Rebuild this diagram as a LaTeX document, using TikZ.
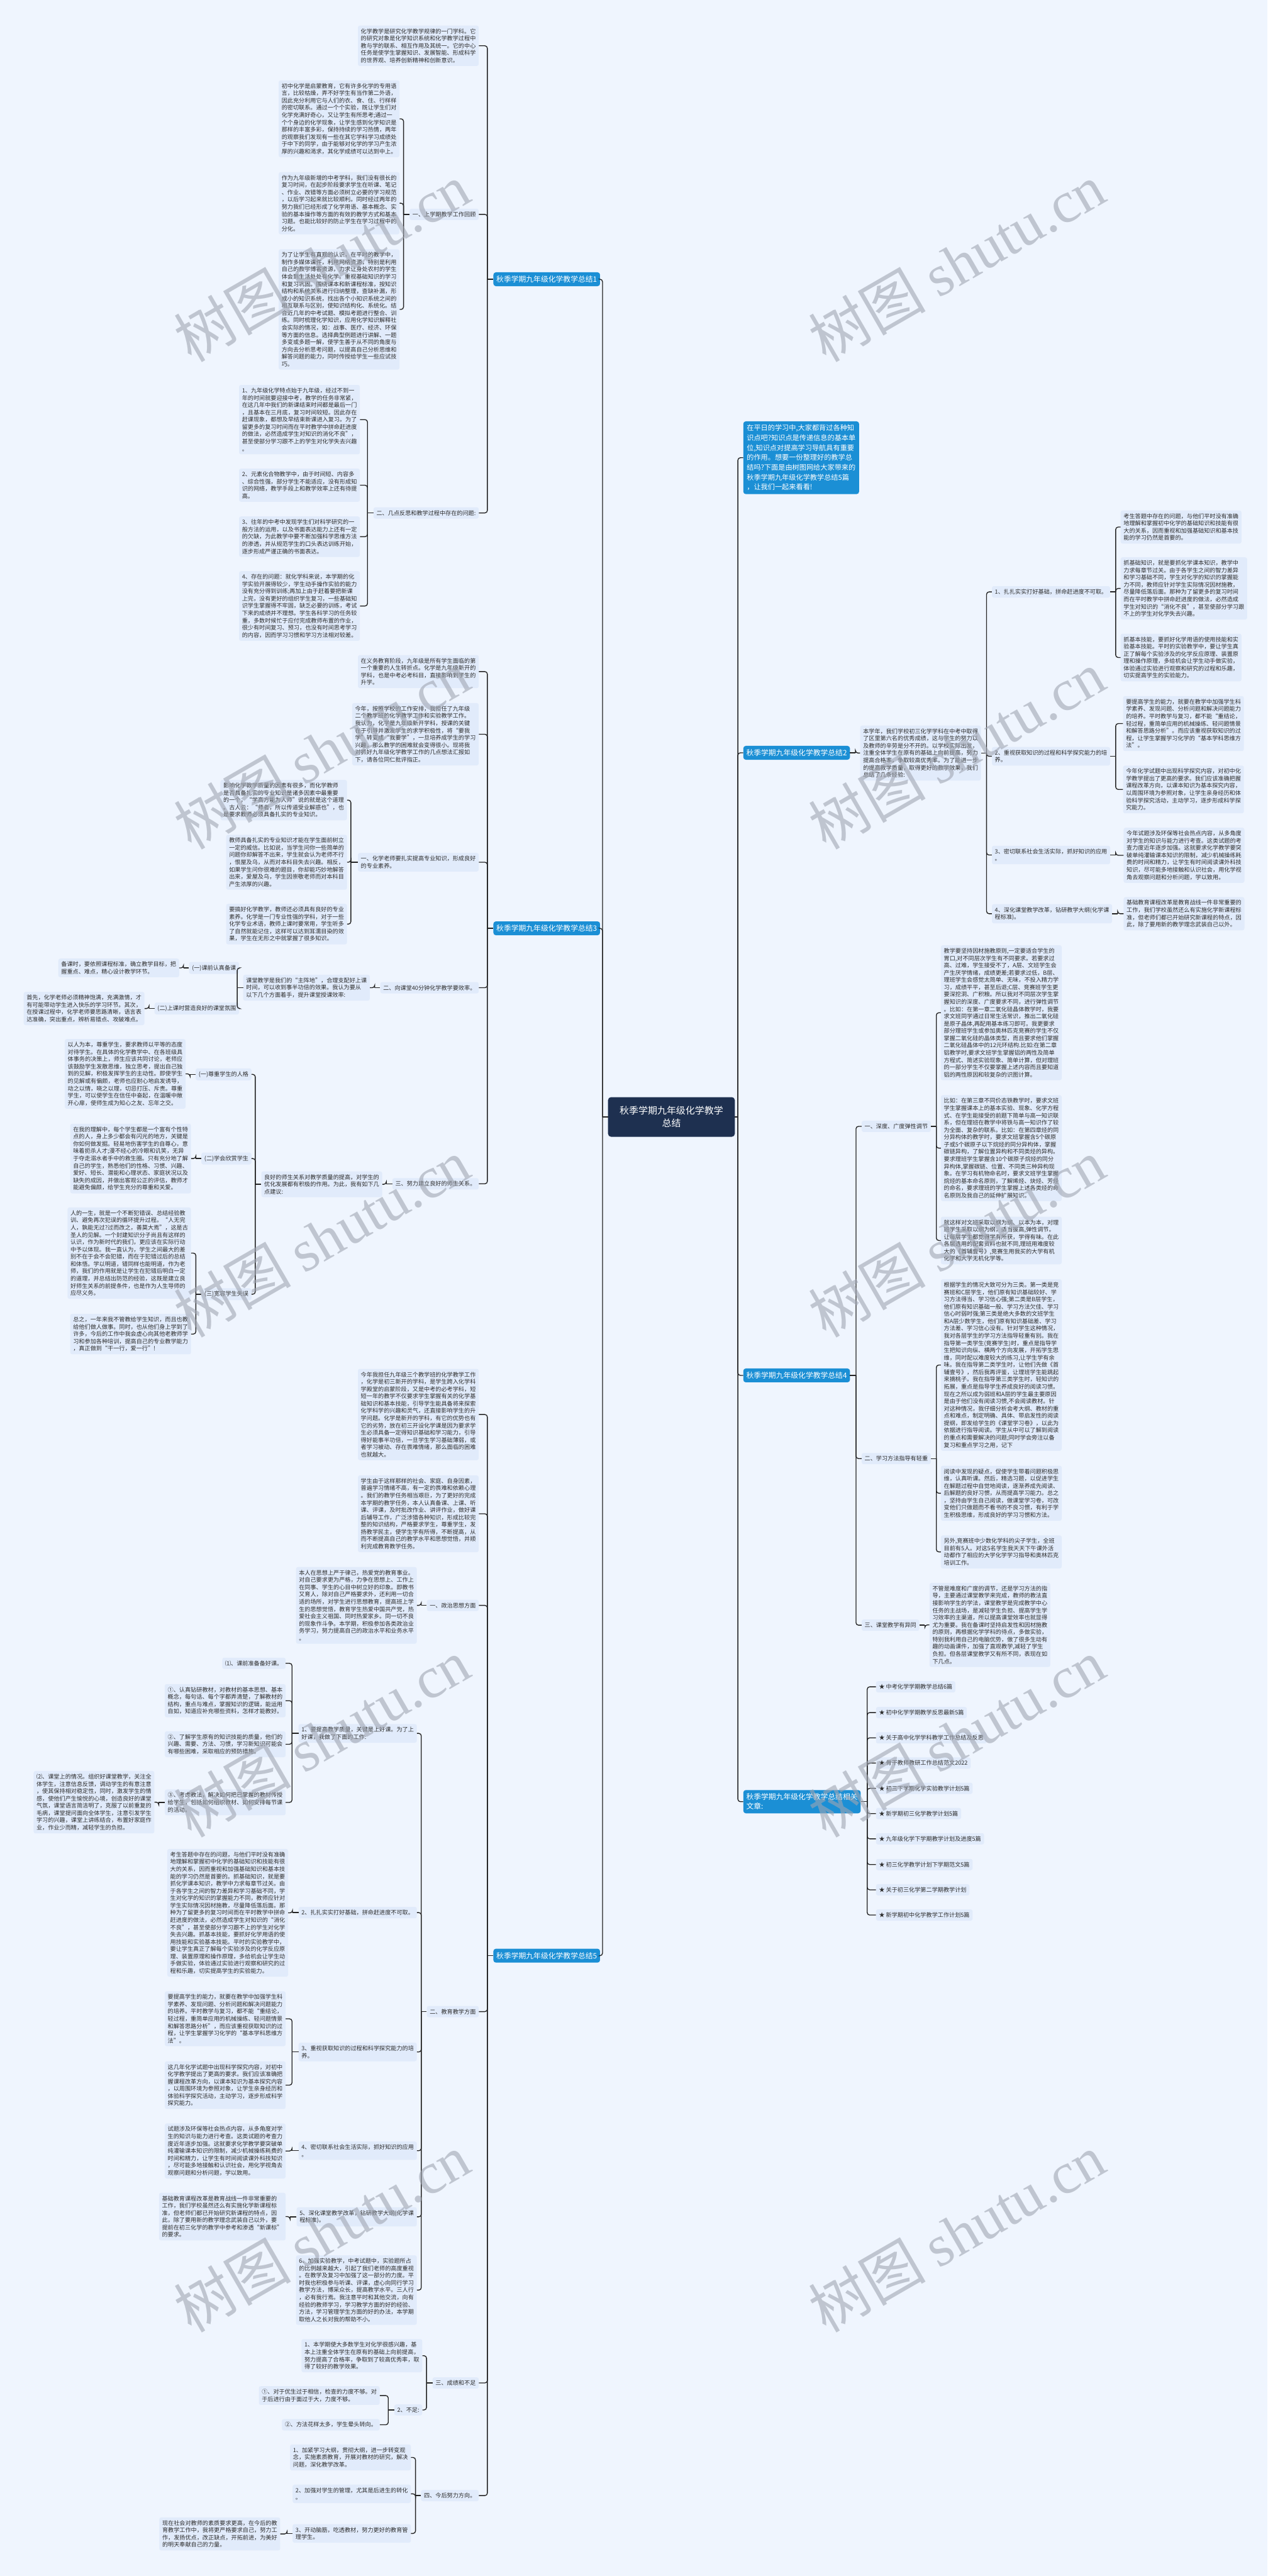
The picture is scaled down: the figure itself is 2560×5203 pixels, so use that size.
\documentclass[tikz,border=0pt]{standalone}
\usepackage{fontspec}
\setmainfont{Noto Sans CJK SC}
\newfontfamily\wmser{Liberation Serif}
\definecolor{bgc}{RGB}{239,245,254}
\definecolor{leafc}{RGB}{225,235,251}
\definecolor{bluec}{RGB}{27,143,213}
\definecolor{navyc}{RGB}{30,48,80}
\definecolor{linec}{RGB}{35,35,35}
\definecolor{txtc}{RGB}{45,45,45}
\definecolor{wmc}{RGB}{160,166,178}
\newcommand\leaffnt{\fontsize{11.6pt}{14.7pt}\selectfont}
\newcommand\brfnt{\fontsize{15pt}{19pt}\selectfont}
\newcommand\introfnt{\fontsize{14.2pt}{19.9pt}\selectfont}
\newcommand\rootfnt{\fontsize{19pt}{25pt}\selectfont}
\newcommand\Lcon[3]{%
  \draw[ln] (#1.west) -- ++(-#2,0);
  \foreach \kk in {#3}{\draw[ln,rounded corners=5pt] (#1.west) ++(-#2,0) |- (\kk.east);}}
\newcommand\Rcon[3]{%
  \draw[ln] (#1.east) -- ++(#2,0);
  \foreach \kk in {#3}{\draw[ln,rounded corners=5pt] (#1.east) ++(#2,0) |- (\kk.west);}}
\tikzset{
  leaf/.style={fill=leafc, rounded corners=4pt, align=left, text=txtc, font=\leaffnt, inner xsep=6pt, inner ysep=6pt},
  brn/.style={fill=bluec, rounded corners=5pt, align=left, text=white, font=\brfnt, inner xsep=6pt, inner ysep=7pt},
  intro/.style={fill=bluec, rounded corners=5pt, align=left, text=white, font=\introfnt, inner xsep=7pt, inner ysep=7pt},
  rootst/.style={fill=navyc, rounded corners=6pt, align=center, text=white, font=\rootfnt, minimum width=256pt, minimum height=80pt},
  ln/.style={draw=linec, line width=1.7pt},
  wm/.style={text=wmc, text opacity=0.6, font=\fontsize{118pt}{120pt}\selectfont, rotate=30},
  lw/.style={leaf, anchor=east},
  rw/.style={leaf, anchor=west}
}
\begin{document}
\begin{tikzpicture}[x=1pt,y=-1pt]
\fill[bgc] (0,0) rectangle (2560,5203);
\useasboundingbox (0,0) rectangle (2560,5203);

% ---------------- root
\node[rootst] (root) at (1356,2256) {秋季学期九年级化学教学\\总结};

% ---------------- branch 1
\node[brn,anchor=east] (b1) at (1212,564) {秋季学期九年级化学教学总结1};
\node[lw] (t1a) at (967,92.5) {化学教学是研究化学教学规律的一门学科。它\\的研究对象是化学知识系统和化学教学过程中\\教与学的联系、相互作用及其统一。它的中心\\任务是使学生掌握知识、发展智能、形成科学\\的世界观、培养创新精神和创新意识。};
\node[lw] (b1s1) at (967,433) {一、上学期教学工作回顾};
\node[lw] (b1s2) at (967,1036) {二、几点反思和教学过程中存在的问题:};
\node[lw] (c1) at (807,240) {初中化学是启蒙教育，它有许多化学的专用语\\言，比较枯燥，弄不好学生有当作第二外语，\\因此充分利用它与人们的衣、食、住、行样样\\的密切联系。通过一个个实验，既让学生们对\\化学充满好奇心，又让学生有所思考;通过一\\个个身边的化学现象，让学生感到化学知识是\\那样的丰富多彩，保持持续的学习热情，两年\\的观察我们发现有一些在其它学科学习成绩处\\于中下的同学，由于能够对化学的学习产生浓\\厚的兴趣和渴求，其化学成绩可以达到中上。};
\node[lw] (c2) at (807,410.5) {作为九年级新增的中考学科，我们没有很长的\\复习时间，在起步阶段要求学生在听课、笔记\\、作业、改错等方面必须树立必要的学习规范\\，以后学习起来就比较顺利。同时经过两年的\\努力我们已经形成了化学用语、基本概念、实\\验的基本操作等方面的有效的教学方式和基本\\习题。也能比较好的防止学生在学习过程中的\\分化。};
\node[lw] (c3) at (807,625) {为了让学生有直观的认识，在平时的教学中，\\制作多媒体课件，利用网络资源，特别是利用\\自己的教学博客资源，力求让身处农村的学生\\体会到生活处处有化学。重视基础知识的学习\\和复习巩固。围绕课本和新课程标准，按知识\\结构和系统关系进行归纳整理，查缺补漏，形\\成小的知识系统，找出各个小知识系统之间的\\相互联系与区别，使知识结构化、系统化。结\\合近几年的中考试题、模拟考题进行整合、训\\练。同时梳理化学知识，应用化学知识解释社\\会实际的情况，如：战事、医疗、经济、环保\\等方面的信息。选择典型例题进行讲解、一题\\多变或多题一解，使学生善于从不同的角度与\\方向去分析思考问题，以提高自己分析思维和\\解答问题的能力，同时传授给学生一些应试技\\巧。};
\node[lw] (d1) at (727,847.5) {1、九年级化学特点始于九年级，经过不到一\\年的时间就要迎接中考，教学的任务非常紧，\\在这几年中我们的新课结束时间都是最后一门\\，且基本在三月底，复习时间较短。因此存在\\赶课现象，都想及早结束新课进入复习。为了\\留更多的复习时间而在平时教学中拼命赶进度\\的做法，必然造成学生对知识的消化不良”，\\甚至使部分学习跟不上的学生对化学失去兴趣\\。};
\node[lw] (d2) at (727,980) {2、元素化合物教学中，由于时间短、内容多\\、综合性强，部分学生不能适应，没有形成知\\识的网络，教学手段上和教学效率上还有待提\\高。};
\node[lw] (d3) at (727,1084) {3、往年的中考中发现学生们对科学研究的一\\般方法的运用，以及书面表达能力上还有一定\\的欠缺，为此教学中要不断加强科学思维方法\\的渗透，并从规范学生的口头表达训练开始，\\逐步形成严谨正确的书面表达。};
\node[lw] (d4) at (727,1224) {4、存在的问题：就化学科来说，本学期的化\\学实验开展得较少，学生动手操作实验的能力\\没有充分得到训练;再加上由于赶着要把新课\\上完，没有更好的组织学生复习，一些基础知\\识学生掌握得不牢固，缺乏必要的训练，考试\\下来的成绩并不理想。学生各科学习的任务较\\重，多数时候忙于应付完成教师布置的作业，\\很少有时间复习、预习，也没有时间思考学习\\的内容，因而学习习惯和学习方法相对较差。};
\Lcon{b1}{12}{t1a,b1s1,b1s2}
\Lcon{b1s1}{12}{c1,c2,c3}
\Lcon{b1s2}{12}{d1,d2,d3,d4}

% ---------------- branch 3
\node[brn,anchor=east] (b3) at (1212,1875) {秋季学期九年级化学教学总结3};
\node[lw] (e1) at (967,1356.5) {在义务教育阶段，九年级是所有学生面临的第\\一个重要的人生转折点。化学是九年级新开的\\学科，也是中考必考科目，直接影响到学生的\\升学。};
\node[lw] (e2) at (967,1483) {今年，按照学校的工作安排，我担任了九年级\\二个教学班的化学教学工作和实验教学工作。\\我认为，化学是九年级新开学科，授课的关键\\在于引导并激发学生的求学积极性，将“要我\\学”转变成“我要学”，一旦培养成学生的学习\\兴趣，那么教学的困难就会变得很小。现将我\\对抓好九年级化学教学工作的几点想法汇报如\\下，请各位同仁批评指正。};
\node[lw] (b3s1) at (967,1741.5) {一、化学老师要扎实提高专业知识，形成良好\\的专业素养。};
\node[lw] (b3s2) at (967,1995) {二、向课堂40分钟化学教学要效率。};
\node[lw] (b3s3) at (967,2391) {三、努力建立良好的师生关系。};
\node[lw] (f1) at (701,1616) {影响化学教学质量的因素有很多，而化学教师\\是否具备扎实的专业知识是诸多因素中最重要\\的一个，“学高方能为人师”说的就是这个道理\\。古人云：“师者，所以传道受业解惑也”，也\\是要求教师必须具备扎实的专业知识。};
\node[lw] (f2) at (701,1741.5) {教师具备扎实的专业知识才能在学生面前树立\\一定的威信。比如说，当学生问你一些简单的\\问题你却解答不出来，学生就会认为老师不行\\，恨屋及乌，从而对本科目失去兴趣。相反，\\如果学生问你很难的题目，你却能巧妙地解答\\出来，爱屋及乌，学生因崇敬老师而对本科目\\产生浓厚的兴趣。};
\node[lw] (f3) at (701,1866.5) {要搞好化学教学，教师还必须具有良好的专业\\素养。化学是一门专业性强的学科，对于一些\\化学专业术语，教师上课时要常用，学生听多\\了自然就能记住，这样可以达到耳濡目染的效\\果，学生在无形之中就掌握了很多知识。};
\node[lw] (g) at (747,1995) {课堂教学是我们的“主阵地”，合理支配好上课\\时间，可以收到事半功倍的效果。我认为要从\\以下几个方面着手，提升课堂授课效率:};
\node[lw] (g1) at (483,1955) {(一)课前认真备课};
\node[lw] (g2) at (483,2037) {(二)上课时营造良好的课堂氛围};
\node[lw] (g1c) at (362,1955) {备课时，要依照课程标准，确立教学目标，把\\握重点、难点，精心设计教学环节。};
\node[lw] (g2c) at (292,2037) {首先，化学老师必须精神饱满，充满激情，才\\有可能带动学生进入快乐的学习环节。其次，\\在授课过程中，化学老师要思路清晰，语言表\\达准确，突出重点，辨析易错点、攻破难点。};
\node[lw] (h) at (772,2392) {良好的师生关系对教学质量的提高，对学生的\\优化发展都有积极的作用。为此，我有如下几\\点建议:};
\node[lw] (h1) at (508,2170) {(一)尊重学生的人格};
\node[lw] (h2) at (508,2340) {(二)学会欣赏学生};
\node[lw] (h3) at (508,2614) {(三)宽容学生失误};
\node[lw] (h1c) at (375,2169) {以人为本，尊重学生，要求教师以平等的态度\\对待学生。在具体的化学教学中、在各班级具\\体事务的决策上，师生应该共同讨论，老师应\\该鼓励学生发散思维，独立思考，提出自己独\\到的见解，积极发挥学生的主动性。即使学生\\的见解或有偏颇，老师也应耐心地启发诱导，\\动之以情，晓之以理，切忌打压、斥责。尊重\\学生，可以使学生在信任中奋起，在温暖中敞\\开心扉，使师生成为知心之友、忘年之交。};
\node[lw] (h2c) at (386,2340) {在我的理解中，每个学生都是一个富有个性特\\点的人，身上多少都会有闪光的地方，关键是\\你如何做发掘。轻易地伤害学生的自尊心，意\\味着扼杀人才;漫不经心的冷眼和讥笑，无异\\于夺走溺水者手中的救生圈。只有充分地了解\\自己的学生，熟悉他们的性格、习惯、兴趣、\\爱好、短长、潜能和心理状态、家庭状况以及\\缺失的成因，并做出客观公正的评估，教师才\\能避免偏颇，给学生充分的尊重和关爱。};
\node[lw] (k1) at (386,2531) {人的一生，就是一个不断犯错误、总结经验教\\训、避免再次犯误的循环提升过程。“人无完\\人，孰能无过?过而改之，善莫大焉”，这是古\\圣人的见解。一个封建知识分子尚且有这样的\\认识，作为新时代的我们，更应该在实际行动\\中予以体现。我一直认为，学生之间最大的差\\别不在于会不会犯错，而在于犯错过后的总结\\和体悟。学以明道，错同样也能明道，作为老\\师，我们的作用就是让学生在犯错后明白一定\\的道理，并总结出防范的经验，这既是建立良\\好师生关系的前提条件，也是作为人生导师的\\应尽义务。};
\node[lw] (k2) at (386,2694.5) {总之，一年来我不管教给学生知识，而且也教\\给他们做人做事。同时，也从他们身上学到了\\许多，今后的工作中我会虚心向其他老教师学\\习和参加各种培训，提高自己的专业教学能力\\，真正做到“干一行，爱一行”!};
\Lcon{b3}{12}{e1,e2,b3s1,b3s2,b3s3}
\Lcon{b3s1}{14}{f1,f2,f3}
\Lcon{b3s2}{11}{g}
\Lcon{g}{12}{g1,g2}
\Lcon{g1}{11}{g1c}
\Lcon{g2}{11}{g2c}
\Lcon{b3s3}{12}{h}
\Lcon{h}{12}{h1,h2,h3}
\Lcon{h1}{11}{h1c}
\Lcon{h2}{11}{h2c}
\Lcon{h3}{11}{k1,k2}

% ---------------- branch 5
\node[brn,anchor=east] (b5) at (1212,3950) {秋季学期九年级化学教学总结5};
\node[lw] (p1) at (967,2857) {今年我担任九年级三个教学班的化学教学工作\\，化学是初三新开的学科，是学生跨入化学科\\学殿堂的启蒙阶段，又是中考的必考学科，短\\短一年的教学不仅要求学生掌握有关的化学基\\础知识和基本技能，引导学生能具备将来探索\\化学科学的兴趣和灵气，还直接影响学生的升\\学问题。化学是新开的学科，有它的优势也有\\它的劣势，放在初三开设化学课是因为要求学\\生必须具备一定得知识基础和学习能力，引导\\得好能事半功倍，一旦学生学习基础薄弱，或\\者学习被动、存在畏难情绪，那么面临的困难\\也就越大。};
\node[lw] (p2) at (967,3057.5) {学生由于这样那样的社会、家庭、自身因素，\\普遍学习情绪不高，有一定的畏难和依赖心理\\。我们的教学任务相当艰巨，为了更好的完成\\本学期的教学任务，本人认真备课、上课、听\\课、评课，及时批改作业、讲评作业，做好课\\后辅导工作，广泛涉猎各种知识，形成比较完\\整的知识结构，严格要求学生，尊重学生，发\\扬教学民主，使学生学有所得，不断提高，从\\而不断提高自己的教学水平和思想觉悟，并顺\\利完成教育教学任务。};
\node[lw] (b5s1) at (967,3242.5) {一、政治思想方面};
\node[lw] (b5s2) at (967,4063) {二、教育教学方面};
\node[lw] (b5s3) at (967,4813) {三、成绩和不足};
\node[lw] (b5s4) at (967,5040.5) {四、今后努力方向。};
\node[lw] (b5s1c) at (842,3242.5) {本人在思想上严于律己，热爱党的教育事业。\\对自己要求更为严格，力争在思想上、工作上\\在同事、学生的心目中树立好的印象。即教书\\又育人，除对自己严格要求外，还利用一切合\\适的场所，对学生进行思想教育，提高班上学\\生的思想觉悟，教育学生热爱中国共产党，热\\爱社会主义祖国、同时热爱家乡。同一切不良\\的现象作斗争。本学期，积极参加各类政治业\\务学习，努力提高自己的政治水平和业务水平\\。};
\node[lw] (q1) at (842,3501) {1、要提高教学质量，关键是上好课。为了上\\好课，我做了下面的工作:};
\node[lw] (q2) at (842,3863) {2、扎扎实实打好基础，拼命赶进度不可取。};
\node[lw] (q3) at (842,4144.5) {3、重视获取知识的过程和科学探究能力的培\\养。};
\node[lw] (q4) at (842,4344) {4、密切联系社会生活实际，抓好知识的应用\\。};
\node[lw] (q5) at (842,4477.5) {5、深化课堂教学改革，钻研教学大纲(化学课\\程标准)。};
\node[lw] (q6) at (842,4625.5) {6、加强实验教学，中考试题中，实验题所占\\的比例越来越大，引起了我们老师的高度重视\\。在教学及复习中加强了这一部分的力度。平\\时我也积极参与听课、评课，虚心向同行学习\\教学方法，博采众长，提高教学水平。三人行\\，必有我行焉。我注意平时和其他交流，向有\\经验的教师学习，学习教学方面的好的经验、\\方法，学习管理学生方面的好的办法，本学期\\取他人之长对我的帮助不小。};
\node[lw] (q1a) at (577,3359.5) {⑴、课前准备备好课。};
\node[lw] (q1b) at (577,3435) {①、认真钻研教材，对教材的基本思想、基本\\概念，每句话、每个字都弄清楚，了解教材的\\结构，重点与难点，掌握知识的逻辑，能运用\\自如，知道应补充哪些资料，怎样才能教好。};
\node[lw] (q1c) at (577,3523) {②、了解学生原有的知识技能的质量，他们的\\兴趣、需要、方法、习惯，学习新知识可能会\\有哪些困难，采取相应的预防措施。};
\node[lw] (q1d) at (577,3640.5) {③、考虑教法，解决如何把已掌握的教材传授\\给学生，包括如何组织教材、如何安排每节课\\的活动。};
\node[lw] (q1e) at (312,3640) {⑵、课堂上的情况。组织好课堂教学，关注全\\体学生，注意信息反馈，调动学生的有意注意\\，使其保持相对稳定性，同时，激发学生的情\\感，使他们产生愉悦的心境，创造良好的课堂\\气氛，课堂语言简洁明了，克服了以前重复的\\毛病，课堂提问面向全体学生，注意引发学生\\学习的兴趣，课堂上讲练结合，布置好家庭作\\业，作业少而精，减轻学生的负担。};
\node[lw] (q2c) at (582,3863.5) {考生答题中存在的问题，与他们平时没有准确\\地理解和掌握初中化学的基础知识和技能有很\\大的关系，因而重视和加强基础知识和基本技\\能的学习仍然是首要的。抓基础知识，就是要\\抓化学课本知识，教学中力求每章节过关。由\\于各学生之间的智力差异和学习基础不同，学\\生对化学的知识的掌握能力不同，教师应针对\\学生实际情况因材施教，尽量降低落后面。那\\种为了留更多的复习时间而在平时教学中拼命\\赶进度的做法，必然造成学生对知识的“消化\\不良”，甚至使部分学习跟不上的学生对化学\\失去兴趣。抓基本技能，要抓好化学用语的使\\用技能和实验基本技能。平时的实验教学中，\\要让学生真正了解每个实验涉及的化学反应原\\理、装置原理和操作原理，多给机会让学生动\\手做实验，体验通过实验进行观察和研究的过\\程和乐趣，切实提高学生的实验能力。};
\node[lw] (r1) at (577,4077.5) {要提高学生的能力，就要在教学中加强学生科\\学素养、发现问题、分析问题和解决问题能力\\的培养。平时教学与复习，都不能“重结论，\\轻过程，重简单应用的机械操练、轻问题情景\\和解答思路分析”，而应该重视获取知识的过\\程，让学生掌握学习化学的“基本学科思维方\\法”。};
\node[lw] (r2) at (577,4211.5) {这几年化学试题中出现科学探究内容，对初中\\化学教学提出了更高的要求。我们应该准确把\\握课程改革方向，以课本知识为基本探究内容\\，以周围环境为参照对象，让学生亲身经历和\\体验科学探究活动，主动学习，逐步形成科学\\探究能力。};
\node[lw] (q4c) at (577,4344.5) {试题涉及环保等社会热点内容，从多角度对学\\生的知识与能力进行考查。这类试题的考查力\\度近年逐步加强。这就要求化学教学要突破单\\纯灌输课本知识的限制，减少机械操练耗费的\\时间和精力，让学生有时间阅读课外科技知识\\，尽可能多地接触和认识社会，用化学视角去\\观察问题和分析问题，学以致用。};
\node[lw] (q5c) at (577,4477) {基础教育课程改革是教育战线一件非常重要的\\工作，我们学校虽然还么有实施化学新课程标\\准，但老师们都已开始研究新课程的特点，因\\此，除了要用新的教学理念武装自己以外，要\\提前在初三化学的教学中参考和渗透“新课标”\\的要求。};
\node[lw] (s1) at (853,4758) {1、本学期使大多数学生对化学很感兴趣，基\\本上注重全体学生在原有的基础上向前提高，\\努力提高了合格率，争取到了较高优秀率，取\\得了较好的教学效果。};
\node[lw] (s2) at (853,4867.5) {2、不足:};
\node[lw] (s2a) at (767,4838.5) {①、对于优生过于相信，检查的力度不够。对\\于后进行由于面过于大，力度不够。};
\node[lw] (s2b) at (767,4897.5) {②、方法花样太多，学生晕头转向。};
\node[lw] (u1) at (830,4963.5) {1、加紧学习大纲，贯彻大纲，进一步转变观\\念，实施素质教育，开展对教材的研究，解决\\问题，深化教学改革。};
\node[lw] (u2) at (830,5037) {2、加强对学生的管理，尤其是后进生的转化\\。};
\node[lw] (u3) at (830,5117) {3、开动脑筋，吃透教材，努力更好的教育管\\理学生。};
\node[lw] (u3c) at (566,5118) {现在社会对教师的素质要求更高，在今后的教\\育教学工作中，我将更严格要求自己，努力工\\作，发扬优点，改正缺点，开拓前进，为美好\\的明天奉献自己的力量。};
\Lcon{b5}{12}{p1,p2,b5s1,b5s2,b5s3,b5s4}
\Lcon{b5s1}{11}{b5s1c}
\Lcon{b5s2}{11}{q1,q2,q3,q4,q5,q6}
\Lcon{q1}{13}{q1a,q1b,q1c,q1d}
\Lcon{q1d}{12}{q1e}
\Lcon{q2}{12}{q2c}
\Lcon{q3}{13}{r1,r2}
\Lcon{q4}{13}{q4c}
\Lcon{q5}{13}{q5c}
\Lcon{b5s3}{12}{s1,s2}
\Lcon{s2}{12}{s2a,s2b}
\Lcon{b5s4}{11}{u1,u2,u3}
\Lcon{u3}{11}{u3c}

% ---------------- right side
\node[intro,anchor=west] (intro) at (1501,924.5) {在平日的学习中,大家都背过各种知\\识点吧?知识点是传递信息的基本单\\位,知识点对提高学习导航具有重要\\的作用。想要一份整理好的教学总\\结吗?下面是由树图网给大家带来的\\秋季学期九年级化学教学总结5篇\\，让我们一起来看看!};
\node[brn,anchor=west] (b2) at (1501,1520.5) {秋季学期九年级化学教学总结2};
\node[brn,anchor=west] (b4) at (1501,2778) {秋季学期九年级化学教学总结4};
\node[brn,anchor=west] (rel) at (1501,3639) {秋季学期九年级化学教学总结相关\\文章:};

\node[rw] (v) at (1737,1521) {本学年，我们学校初三化学学科在中考中取得\\了区里第六名的优秀成绩，这与学生的努力以\\及教师的辛劳是分不开的。以学校实际出发，\\注重全体学生在原有的基础上向前提高，努力\\提高合格率，争取较高优秀率。为了能进一步\\的提高教学质量，取得更好的教学效果，我们\\总结了几条经验:};
\node[rw] (w1) at (2003,1195.5) {1、扎扎实实打好基础，拼命赶进度不可取。};
\node[rw] (w2) at (2003,1527.5) {2、重视获取知识的过程和科学探究能力的培\\养。};
\node[rw] (w3) at (2003,1727) {3、密切联系社会生活实际，抓好知识的应用\\。};
\node[rw] (w4) at (2003,1845.5) {4、深化课堂教学改革，钻研教学大纲(化学课\\程标准)。};
\node[rw] (w1a) at (2263,1064.5) {考生答题中存在的问题，与他们平时没有准确\\地理解和掌握初中化学的基础知识和技能有很\\大的关系，因而重视和加强基础知识和基本技\\能的学习仍然是首要的。};
\node[rw] (w1b) at (2263,1188.5) {抓基础知识，就是要抓化学课本知识，教学中\\力求每章节过关。由于各学生之间的智力差异\\和学习基础不同，学生对化学的知识的掌握能\\力不同，教师应针对学生实际情况因材施教，\\尽量降低落后面。那种为了留更多的复习时间\\而在平时教学中拼命赶进度的做法，必然造成\\学生对知识的“消化不良”，甚至使部分学习跟\\不上的学生对化学失去兴趣。};
\node[rw] (w1c) at (2263,1328) {抓基本技能，要抓好化学用语的使用技能和实\\验基本技能。平时的实验教学中，要让学生真\\正了解每个实验涉及的化学反应原理、装置原\\理和操作原理，多给机会让学生动手做实验，\\体验通过实验进行观察和研究的过程和乐趣，\\切实提高学生的实验能力。};
\node[rw] (w2a) at (2268,1461.5) {要提高学生的能力，就要在教学中加强学生科\\学素养、发现问题、分析问题和解决问题能力\\的培养。平时教学与复习，都不能“重结论，\\轻过程，重简单应用的机械操练、轻问题情景\\和解答思路分析”。而应该重视获取知识的过\\程，让学生掌握学习化学的“基本学科思维方\\法”。};
\node[rw] (w2b) at (2268,1594.5) {今年化学试题中出现科学探究内容，对初中化\\学教学提出了更高的要求。我们应该准确把握\\课程改革方向，以课本知识为基本探究内容，\\以周围环境为参照对象，让学生亲身经历和体\\验科学探究活动，主动学习，逐步形成科学探\\究能力。};
\node[rw] (w3c) at (2269,1727.5) {今年试题涉及环保等社会热点内容，从多角度\\对学生的知识与能力进行考查。这类试题的考\\查力度近年逐步加强。这就要求化学教学要突\\破单纯灌输课本知识的限制，减少机械操练耗\\费的时间和精力，让学生有时间阅读课外科技\\知识，尽可能多地接触和认识社会，用化学视\\角去观察问题和分析问题，学以致用。};
\node[rw] (w4c) at (2269,1845.5) {基础教育课程改革是教育战线一件非常重要的\\工作，我们学校虽然还么有实施化学新课程标\\准，但老师们都已开始研究新课程的特点，因\\此，除了要用新的教学理念武装自己以外。};
\Rcon{b2}{11}{v}
\Rcon{v}{11}{w1,w2,w3,w4}
\Rcon{w1}{11}{w1a,w1b,w1c}
\Rcon{w2}{11}{w2a,w2b}
\Rcon{w3}{11}{w3c}
\Rcon{w4}{11}{w4c}

\node[rw] (x1) at (1740,2275) {一、深度、广度弹性调节};
\node[rw] (x2) at (1740,2946) {二、学习方法指导有轻重};
\node[rw] (x3) at (1740,3282.5) {三、课堂教学有异同};
\node[rw] (y1) at (1900,2045.5) {教学要坚持因材施教原则,一定要适合学生的\\胃口,对不同层次学生有不同要求。若要求过\\高、过难，学生接受不了，A层、文班学生会\\产生厌学情绪，成绩更差;若要求过低，B层、\\理班学生会感觉太简单、无味，不投入精力学\\习，成绩平平，甚至后退;C层、竞赛班学生更\\要深挖洞、广积粮。所以我对不同层次学生掌\\握知识的深度、广度要求不同，进行弹性调节\\。比如：在第一章二氧化硅晶体教学时，我要\\求文班同学通过日常生活常识，推出二氧化硅\\是原子晶体,再配用基本练习即可。我更要求\\部分理班学生或参加奥林匹克竞赛的学生不仅\\掌握二氧化硅的晶体类型，而且要求他们掌握\\二氧化硅晶体中的12元环结构.比如:在第二章\\铝教学时,要求文班学生掌握铝的两性及简单\\方程式、简述实验现象、简单计算，但对理班\\的一部分学生不仅要掌握上述内容而且要知道\\铝的两性原因和较复杂的识图计算。};
\node[rw] (y2) at (1900,2319) {比如：在第三章不同价态铁教学时，要求文班\\学生掌握课本上的基本实验、现象、化学方程\\式、在学生能接受的前题下简单与高一知识联\\系，但在理班在教学中将铁与高一知识作了较\\为全面、复杂的联系。比如：在第四章烃的同\\分异构体的教学时，要求文班掌握含5个碳原\\子或5个碳原子以下烷烃的同分异构体，掌握\\碳链异构，了解位置异构和不同类烃的异构。\\要求理班学生掌握含10个碳原子烷烃的同分\\异构体,掌握碳链、位置、不同类三种异构现\\象。在学习有机物命名时，要求文班学生掌握\\烷烃的基本命名原则，了解烯烃、炔烃、芳烃\\的命名，要求理班的学生掌握上述各类烃的命\\名原则及我自己的延伸扩展知识。};
\node[rw] (y3) at (1900,2505.5) {就这样对文班采取以纲为纲、以本为本，对理\\班学生采取以纲为纲，适当拔高,弹性调节。\\让每层学生都觉得学有所获，学得有味。在此\\各层选用的配套资料也就不同,理班用难度较\\大的《首辅壹号》,竞赛生用我买的大学有机\\化学和大学无机化学等。};
\node[rw] (z1) at (1900,2757) {根据学生的情况大致可分为三类。第一类是竞\\赛班和C层学生，他们原有知识基础较好、学\\习方法得当、学习信心强;第二类是B层学生，\\他们原有知识基础一般、学习方法欠佳、学习\\信心时弱时强;第三类是绝大多数的文班学生\\和A层少数学生，他们原有知识基础差、学习\\方法差、学习信心没有。针对学生这种情况，\\我对各层学生的学习方法指导轻重有别。我在\\指导第一类学生(竞赛学生)时，重点是指导学\\生把知识向纵、横两个方向发展，开拓学生思\\维，同时配以难度较大的练习,让学生学有余\\味。我在指导第二类学生时，让他们先做《首\\辅壹号》，然后我再评鉴，让理班学生能跳起\\来摘桃子。我在指导第三类学生时，轻知识的\\拓展，重点是指导学生养成良好的阅读习惯。\\现在之所以成为弱班和A层的学生最主要原因\\是由于他们没有阅读习惯,不会阅读教材。针\\对这种情况，我仔细分析会考大纲、教材的重\\点和难点，制定明确、具体、带启发性的阅读\\提纲，即发给学生的《课堂学习卷》，以此为\\依据进行指导阅读。学生从中可以了解到阅读\\的重点和需要解决的问题;同时学会旁注以备\\复习和重点学习之用，记下};
\node[rw] (z2) at (1900,3016) {阅读中发现的疑点，促使学生带着问题积极思\\维，认真听课。然后，精选习题，以促进学生\\在解题过程中自觉地阅读，逐渐养成先阅读、\\后解题的良好习惯，从而提高学习能力。总之\\，坚持由学生自己阅读，做课堂学习卷，可改\\变他们只做题而不看书的不良习惯，有利于学\\生积极思维，形成良好的学习习惯和方法。};
\node[rw] (z3) at (1900,3134.5) {另外,竞赛班中少数化学科的尖子学生，全班\\目前有5人。对这5名学生我天天下午课外活\\动都作了相应的大学化学学习指导和奥林匹克\\培训工作。};
\node[rw] (x3c) at (1877,3282) {不管是难度和广度的调节，还是学习方法的指\\导，主要通过课堂教学来完成，教师的教法直\\接影响学生的学法，课堂教学是完成教学中心\\任务的主战场，是减轻学生负担、提高学生学\\习效率的主渠道，所以提高课堂效率也就显得\\尤为重要。我在备课时坚持启发性和因材施教\\的原则，再根据化学学科的待点，多做实验，\\特别我利用自己的电脑优势，做了很多生动有\\趣的动画课件，加强了直观教学,减轻了学生\\负担。但各层课堂教学又有所不同，表现在如\\下几点。};
\Rcon{b4}{12}{x1,x2,x3}
\Rcon{x1}{11}{y1,y2,y3}
\Rcon{x2}{11}{z1,z2,z3}
\Rcon{x3}{11}{x3c}

\node[rw] (ri1) at (1769,3407) {★ 中考化学学期教学总结6篇};
\node[rw] (ri2) at (1769,3459) {★ 初中化学学期教学反思最新5篇};
\node[rw] (ri3) at (1769,3510) {★ 关于高中化学学科教学工作总结及反思};
\node[rw] (ri4) at (1769,3561) {★ 骨干教师教研工作总结范文2022};
\node[rw] (ri5) at (1769,3612) {★ 初三下学期化学实验教学计划5篇};
\node[rw] (ri6) at (1769,3663) {★ 新学期初三化学教学计划5篇};
\node[rw] (ri7) at (1769,3714) {★ 九年级化学下学期教学计划及进度5篇};
\node[rw] (ri8) at (1769,3766) {★ 初三化学教学计划下学期范文5篇};
\node[rw] (ri9) at (1769,3817) {★ 关于初三化学第二学期教学计划};
\node[rw] (ri10) at (1769,3868) {★ 新学期初中化学教学工作计划5篇};
\Rcon{rel}{13}{ri1,ri2,ri3,ri4,ri5,ri6,ri7,ri8,ri9,ri10}

% ---------------- root connectors
\Lcon{root}{11}{b1,b3,b5}
\Rcon{root}{6}{intro,b2,b4,rel}

% ---------------- watermarks
\foreach \wx in {650,1932}{
  \foreach \wy in {530,1515,2500,3510,4510}{
    \node[wm] (wm\wx\wy) at (\wx,\wy) {树图 {\wmser shutu.cn}};
  }
}
\end{tikzpicture}
\end{document}
